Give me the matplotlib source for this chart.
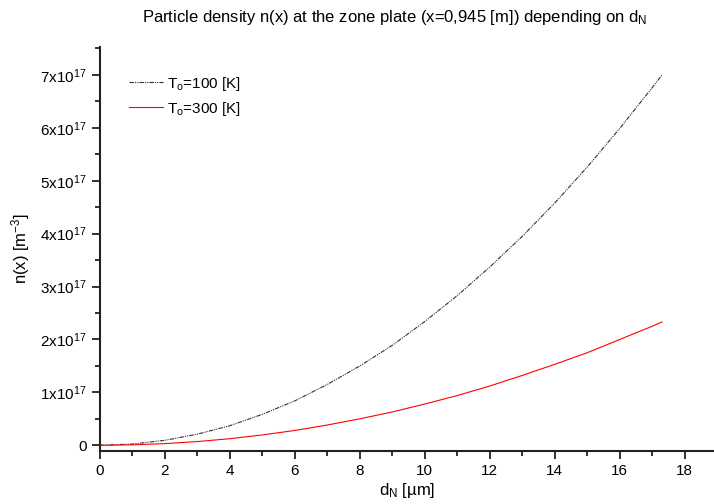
import matplotlib
matplotlib.use('Agg')
import matplotlib.pyplot as plt
from matplotlib.ticker import FuncFormatter, MultipleLocator

plt.rcParams['font.family'] = ['Liberation Sans', 'DejaVu Sans']
plt.rcParams['mathtext.fontset'] = 'custom'
plt.rcParams['mathtext.rm'] = 'Liberation Sans'
plt.rcParams['mathtext.it'] = 'Liberation Sans'

# nozzle diameter d_N [um]
d_n = [0, 1, 2, 3, 4, 5, 6, 7, 8, 9, 10, 11, 12, 13, 14, 15, 16, 17, 17.3]
# density at the zone plate [1e17 m^-3]
n_100 = [0, 0.023, 0.094, 0.21, 0.37, 0.585, 0.84, 1.15, 1.50, 1.89, 2.34,
         2.83, 3.37, 3.95, 4.58, 5.26, 5.99, 6.76, 7.00]
n_300 = [0, 0.008, 0.031, 0.07, 0.124, 0.195, 0.28, 0.383, 0.50, 0.63, 0.78,
         0.94, 1.12, 1.32, 1.53, 1.75, 2.00, 2.25, 2.33]

fig = plt.figure(figsize=(7.14, 5.04), dpi=100)
ax = fig.add_axes([0.14, 0.105, 0.86, 0.802])

ax.plot(d_n, [v * 1e17 for v in n_100], color='#303030', lw=0.8,
        dashes=(4, 1, 1, 1, 1, 1), label=r'T$_{\mathrm{o}}$=100 [K]')
ax.plot(d_n, [v * 1e17 for v in n_300], color='red', lw=0.8,
        label=r'T$_{\mathrm{o}}$=300 [K]')

ax.set_xlim(0, 18.9)
ax.set_ylim(-0.11e17, 7.53e17)

ax.xaxis.set_major_locator(MultipleLocator(2))
ax.xaxis.set_minor_locator(MultipleLocator(1))
ax.yaxis.set_major_locator(MultipleLocator(1e17))
ax.yaxis.set_minor_locator(MultipleLocator(0.5e17))


def sci(v, pos):
    k = int(round(v / 1e17))
    if k == 0:
        return '0'
    return r'%dx10$^{17}$' % k


ax.yaxis.set_major_formatter(FuncFormatter(sci))

for s in ['top', 'right']:
    ax.spines[s].set_visible(False)
for s in ['left', 'bottom']:
    ax.spines[s].set_linewidth(1.5)
    ax.spines[s].set_color('#222222')

ax.tick_params(which='major', direction='out', length=6, width=1.3,
               labelsize=11, color='#222222')
ax.tick_params(which='minor', direction='out', length=3.5, width=1.3,
               color='#222222')

ax.set_xlabel(r'd$_{\mathrm{N}}$ [µm]', fontsize=12, labelpad=2)
ax.set_ylabel(r'n(x) [m$^{-3}$]', fontsize=12, labelpad=6)
ax.set_title(r'Particle density n(x) at the zone plate (x=0,945 [m]) depending on d$_{\mathrm{N}}$',
             fontsize=12, pad=18, x=0.48)

ax.legend(loc='upper left', bbox_to_anchor=(0.025, 0.965), frameon=False,
          fontsize=11, handlelength=2.2, handletextpad=0.3, labelspacing=0.45)

fig.savefig('out.png', dpi=100)
